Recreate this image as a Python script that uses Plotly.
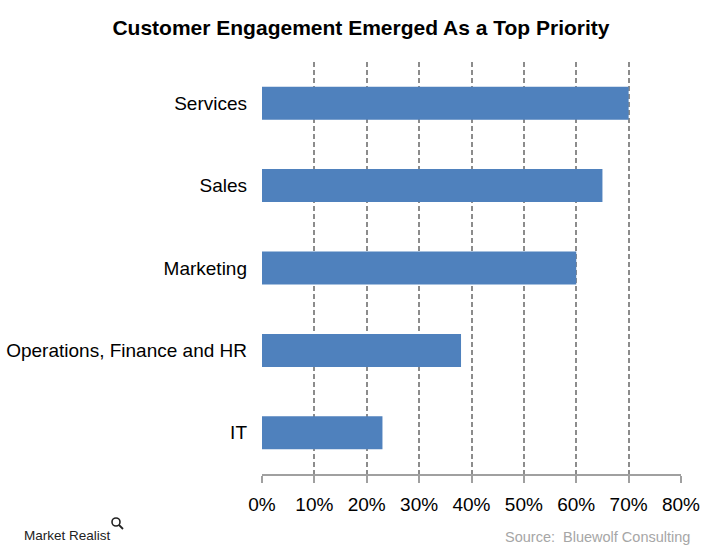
import plotly.graph_objects as go

categories = ["IT", "Operations, Finance and HR", "Marketing", "Sales", "Services"]
values = [23, 38, 60, 65, 70]
tick_vals = [0, 10, 20, 30, 40, 50, 60, 70, 80]
tick_text = ["0%", "10%", "20%", "30%", "40%", "50%", "60%", "70%", "80%"]

FONT = "Liberation Sans, Arial, sans-serif"
W, H = 722, 552
L, R, T, B = 262, 41, 62, 78
PW, PH = W - L - R, H - T - B


def px_x(x):
    return (x - L) / PW


def px_y(y):
    return (H - B - y) / PH


fig = go.Figure(go.Bar(
    x=values, y=categories, orientation="h",
    marker=dict(color="#4F81BD", line=dict(width=0)),
    width=0.4,
))

fig.update_layout(
    width=W, height=H,
    margin=dict(l=L, r=R, t=T, b=B, autoexpand=False),
    paper_bgcolor="white", plot_bgcolor="white",
    showlegend=False,
    title=dict(text="<b>Customer Engagement Emerged As a Top Priority</b>",
               x=0.5, xanchor="center", y=1 - 28 / H, yanchor="middle",
               font=dict(family=FONT, size=21, color="black")),
    font=dict(family=FONT, size=19, color="black"),
)

fig.update_xaxes(
    range=[0, 80], tickvals=tick_vals, ticktext=tick_text,
    showgrid=True, gridcolor="#8c8c8c", griddash="5px,3px", gridwidth=1.5,
    showline=True, linecolor="#a0a0a0", linewidth=1.5,
    ticks="outside", ticklen=7, tickcolor="#a0a0a0", tickwidth=1.5,
    ticklabelstandoff=5, automargin=False,
    tickfont=dict(family=FONT, size=19, color="black"),
    zeroline=False, fixedrange=True,
)
fig.update_yaxes(
    showgrid=False, showline=False, ticks="", ticklabelstandoff=14,
    automargin=False,
    tickfont=dict(family=FONT, size=19, color="black"),
    fixedrange=True,
)

fig.add_annotation(text="Market Realist", xref="paper", yref="paper",
                   x=px_x(22), y=px_y(535), xanchor="left", yanchor="middle",
                   showarrow=False, font=dict(family=FONT, size=13.5, color="#222222"))
fig.add_annotation(text="Source:  Bluewolf Consulting", xref="paper", yref="paper",
                   x=px_x(692), y=px_y(537), xanchor="right", yanchor="middle",
                   showarrow=False, font=dict(family=FONT, size=14.5, color="#a6a6a6"))
# magnifier icon next to logo text
fig.add_shape(type="circle", xref="paper", yref="paper",
              x0=px_x(112), x1=px_x(120), y0=px_y(526), y1=px_y(518),
              line=dict(color="#222222", width=1.6))
fig.add_shape(type="line", xref="paper", yref="paper",
              x0=px_x(119), x1=px_x(123), y0=px_y(525), y1=px_y(529),
              line=dict(color="#222222", width=1.8))

fig.write_html("out.html", config={"displayModeBar": False},
               post_script="document.body.style.margin='0px';")
